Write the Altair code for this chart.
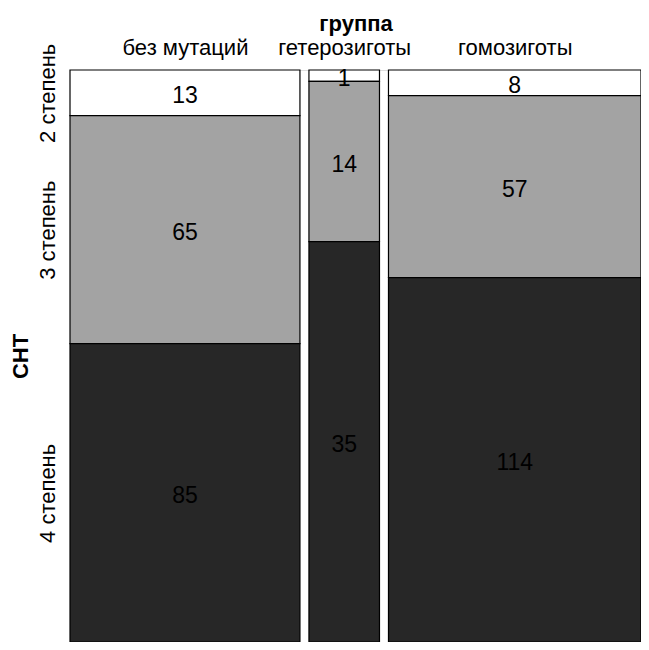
import altair as alt
import pandas as pd

groups = ["без мутаций", "гетерозиготы", "гомозиготы"]
levels = ["2 степень", "3 степень", "4 степень"]
counts = {
    "без мутаций": [13, 65, 85],
    "гетерозиготы": [1, 14, 35],
    "гомозиготы": [8, 57, 114],
}
colors = ["#ffffff", "#a3a3a3", "#272727"]

W, H = 571, 572
GAP = 9 / W
FONT = "Liberation Sans"
FS = 22

N = sum(sum(v) for v in counts.values())
rows = []
xpos = 0.0
xcenters = []
for g in groups:
    tot = sum(counts[g])
    w = tot / N * (1 - GAP * (len(groups) - 1))
    ycum = 0.0
    for lvl, c in zip(levels, counts[g]):
        h = c / tot
        rows.append(dict(group=g, level=lvl, n=c, x0=xpos, x1=xpos + w,
                         y0=ycum, y1=ycum + h, xc=xpos + w / 2, yc=ycum + h / 2))
        ycum += h
    xcenters.append(xpos + w / 2)
    xpos += w + GAP
df = pd.DataFrame(rows)

first = df[df.group == groups[0]]
ycenters = list(first.yc)

def thresh_expr(vals, names):
    mids = [(vals[i] + vals[i + 1]) / 2 for i in range(len(vals) - 1)]
    expr = f"'{names[-1]}'"
    for m, nm in reversed(list(zip(mids, names[:-1]))):
        expr = f"datum.value < {m} ? '{nm}' : ({expr})"
    return expr

xscale = alt.Scale(domain=[0, 1], nice=False, zero=False)
yscale = alt.Scale(domain=[0, 1], nice=False, zero=False, reverse=True)

base = alt.Chart(df)

rects = base.mark_rect(stroke="black", strokeWidth=1.2).encode(
    x=alt.X("x0:Q", scale=xscale, axis=alt.Axis(
        orient="top", values=xcenters, labelExpr=thresh_expr(xcenters, groups),
        title="группа", titleFontWeight="bold", titleFontSize=FS, titleFont=FONT,
        labelFont=FONT, labelFontSize=FS, labelColor="black", titleColor="black",
        labelBaseline="alphabetic", labelPadding=16,
        ticks=False, domain=False, grid=False, titlePadding=1)),
    x2="x1:Q",
    y=alt.Y("y0:Q", scale=yscale, axis=alt.Axis(
        orient="left", values=ycenters, labelExpr=thresh_expr(ycenters, levels),
        title="СНТ", titleFontWeight="bold", titleFontSize=FS, titleFont=FONT,
        labelFont=FONT, labelFontSize=FS, labelColor="black", titleColor="black",
        labelAngle=270, labelAlign="center", labelBaseline="alphabetic",
        ticks=False, domain=False, grid=False, labelPadding=16, titlePadding=4)),
    y2="y1:Q",
    fill=alt.Fill("level:N", scale=alt.Scale(domain=levels, range=colors), legend=None),
)

texts = base.mark_text(fontSize=23, font=FONT, color="black", baseline="middle", dy=3).encode(
    x=alt.X("xc:Q", scale=xscale),
    y=alt.Y("yc:Q", scale=yscale),
    text="n:Q",
)

chart = (rects + texts).properties(
    width=W, height=H,
    autosize=alt.AutoSizeParams(type="none"),
    padding={"left": 62, "top": 62, "right": 0, "bottom": 0},
).configure_view(stroke=None).configure(background="white")

chart.save("out.html", embed_options={"renderer": "svg", "actions": False})
